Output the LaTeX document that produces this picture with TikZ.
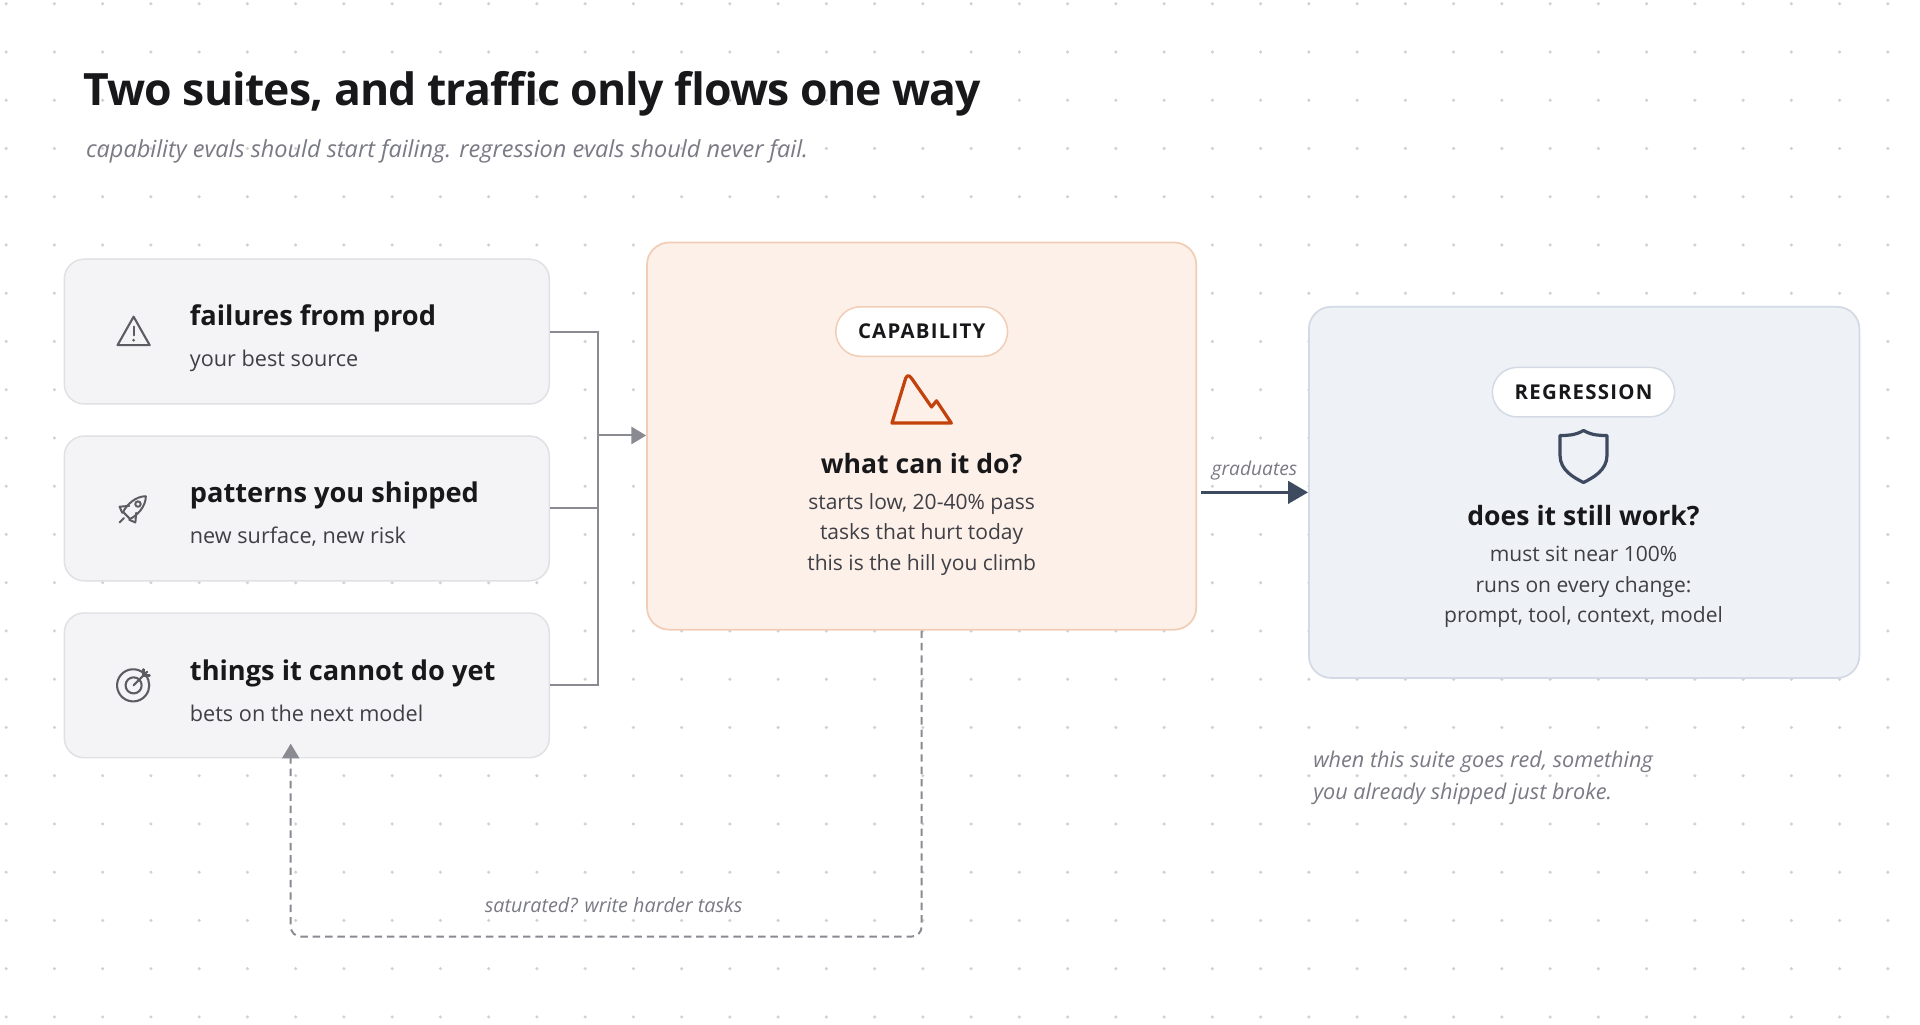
\documentclass[tikz,border=0pt]{standalone}
\usepackage{fontspec}
\setmainfont{Open Sans}
\usetikzlibrary{arrows.meta}
\definecolor{ink}{HTML}{18181B}
\definecolor{sub}{HTML}{3F3F46}
\definecolor{mut}{HTML}{7A7A85}
\definecolor{srcfill}{HTML}{F4F4F6}
\definecolor{srcline}{HTML}{E0E0E5}
\definecolor{capfill}{HTML}{FDF0E8}
\definecolor{capline}{HTML}{F2CDB6}
\definecolor{regfill}{HTML}{EEF1F6}
\definecolor{regline}{HTML}{D3DAE5}
\definecolor{slate}{HTML}{3D4A5F}
\definecolor{rust}{HTML}{C2410C}
\definecolor{conn}{HTML}{8A8A92}
\tikzset{
 src/.style={draw=srcline,fill=srcfill,line width=1.2pt,rounded corners=16pt,minimum width=392pt,minimum height=117pt,inner sep=0pt},
 stitle/.style={anchor=base west,text=ink,font=\fontsize{22}{28}\selectfont\bfseries},
 ssub/.style={anchor=base west,text=sub,font=\fontsize{17.5}{22}\selectfont},
 pill/.style={draw=#1,fill=white,line width=1.2pt,rounded corners=20pt,minimum height=40pt,inner xsep=18pt,text=ink,font=\fontsize{16.5}{20}\selectfont\bfseries\addfontfeature{LetterSpace=6}},
 btitle/.style={text=ink,font=\fontsize{21.5}{26}\selectfont\bfseries,anchor=base},
 bline/.style={text=sub,font=\fontsize{17}{21}\selectfont,anchor=base},
 note/.style={text=mut,font=\fontsize{17.5}{25}\selectfont\itshape},
 icon/.style={draw=#1,line width=2pt,line cap=round,line join=round},
 conn/.style={draw=conn,line width=1.6pt},
}
\begin{document}
\begin{tikzpicture}[x=1pt,y=-1pt]
\useasboundingbox (0,0) rectangle (1552,828);
\fill[white] (0,0) rectangle (1552,828);
% dot grid
\foreach \i in {0,...,40}{\foreach \j in {0,...,21}{
  \fill[black!18] (5+39*\i,3+39*\j) circle (1.4pt);}}
% title
\node[anchor=base west,text=ink,font=\fontsize{36}{44}\selectfont\bfseries\addfontfeature{LetterSpace=-2}] (title) at (64,85) {Two suites, and traffic only flows one way};
\node[anchor=base west,text=mut,font=\fontsize{19}{24}\selectfont\itshape] (subtitle) at (66,127) {capability evals should start failing. regression evals should never fail.};
% source boxes
\node[src] (s1) at (248,268) {};
\node[src] (s2) at (248,411) {};
\node[src] (s3) at (248,554) {};
\node[stitle] (s1t) at (150,263) {failures from prod};
\node[ssub] (s1s) at (150,296) {your best source};
\node[stitle] (s2t) at (150,406) {patterns you shipped};
\node[ssub] (s2s) at (150,439) {new surface, new risk};
\node[stitle] (s3t) at (150,550) {things it cannot do yet};
\node[ssub] (s3s) at (150,583) {bets on the next model};
% icons
\begin{scope}[shift={(108,268)}]
 \draw[icon=sub!85,line width=1.7pt] (0,-12) -- (13,11) -- (-13,11) -- cycle;
 \draw[icon=sub!85,line width=1.7pt] (0,-4) -- (0,3);
 \fill[sub!85] (0,7) circle (1.2pt);
\end{scope}
\begin{scope}[shift={(108,411)},rotate=-45]
 \draw[icon=sub!85,line width=1.6pt] (0,-14) .. controls (6,-8) and (6,2) .. (4,8) -- (-4,8) .. controls (-6,2) and (-6,-8) .. (0,-14);
 \draw[icon=sub!85,line width=1.6pt] (-4,1) -- (-9,7) -- (-4,9);
 \draw[icon=sub!85,line width=1.6pt] (4,1) -- (9,7) -- (4,9);
 \draw[icon=sub!85,line width=1.6pt] (0,-5) circle (2.2pt);
 \draw[icon=sub!85,line width=1.6pt] (0,11) -- (0,16);
\end{scope}
\begin{scope}[shift={(108,554)}]
 \draw[icon=sub!85,line width=1.7pt] (8,-10) arc[start angle=-50,end angle=-400,radius=13];
 \draw[icon=sub!85,line width=1.7pt] (0,0) circle (6.5pt);
 \draw[icon=sub!85,line width=1.7pt] (0,0) -- (11,-11);
 \draw[icon=sub!85,line width=1.7pt] (8,-13) -- (8,-8) -- (13,-8);
\end{scope}
% capability
\node[draw=capline,fill=capfill,line width=1.4pt,rounded corners=18pt,minimum width=444pt,minimum height=313pt] (cap) at (745,352.5) {};
\node[pill=capline] (cappill) at (745,268) {CAPABILITY};
\begin{scope}[shift={(745,325)}]
 \draw[icon=rust,line width=2.6pt] (-24,17) -- (-13,-19) .. controls (-12,-22) and (-10,-22) .. (-8,-19) -- (8,4) -- (12,-1) -- (24,17) -- cycle;
\end{scope}
\node[btitle] (capt) at (745,383) {what can it do?};
\node[bline] (capl1) at (745,412) {starts low, 20-40\% pass};
\node[bline] (capl2) at (745,436) {tasks that hurt today};
\node[bline] (capl3) at (745,461) {this is the hill you climb};
% regression
\node[draw=regline,fill=regfill,line width=1.4pt,rounded corners=18pt,minimum width=445pt,minimum height=300pt] (reg) at (1280.5,398) {};
\node[pill=regline] (regpill) at (1280,317) {REGRESSION};
\begin{scope}[shift={(1280,368)}]
 \draw[icon=slate,line width=2.6pt] (0,-20) .. controls (7,-16) and (13,-16) .. (19,-16) -- (19,0) .. controls (19,12) and (8,18) .. (0,22) .. controls (-8,18) and (-19,12) .. (-19,0) -- (-19,-16) .. controls (-13,-16) and (-7,-16) .. (0,-20) -- cycle;
\end{scope}
\node[btitle] (regt) at (1280,425) {does it still work?};
\node[bline] (regl1) at (1280,454) {must sit near 100\%};
\node[bline] (regl2) at (1280,479) {runs on every change:};
\node[bline] (regl3) at (1280,503) {prompt, tool, context, model};
\node[note,anchor=base west] (regnote) at (1058,620) {when this suite goes red, something};
\node[note,anchor=base west] (regnote2) at (1058,646) {you already shipped just broke.};
% connectors
\coordinate (bus) at (483,352);
\draw[conn] (s1.east) -- (s1.east -| bus) -- (s3.east -| bus) -- (s3.east);
\draw[conn] (s2.east) -- (s2.east -| bus);
\draw[conn,-{Triangle[length=12pt,width=14pt]}] (bus) -- (cap.west |- bus) ;
\draw[draw=slate,line width=2.4pt,-{Triangle[length=16pt,width=18pt]}] ([xshift=3pt]cap.east |- 0,398) -- (reg.west |- 0,398) node[midway,above=5pt,text=mut,font=\fontsize{15.5}{18}\selectfont\itshape] (grad) {graduates};
\coordinate (fb1) at (745,757);
\coordinate (fb2) at (235,757);
\draw[conn,dashed,dash pattern=on 6pt off 4pt,rounded corners=8pt,-{Triangle[length=12pt,width=14pt]}] (cap.south) -- (fb1) -- (fb2) -- ([yshift=12pt]s3.south -| fb2);
\node[text=mut,font=\fontsize{16}{19}\selectfont\itshape] (fbl) at (496,732) {saturated? write harder tasks};
\end{tikzpicture}
\end{document}
